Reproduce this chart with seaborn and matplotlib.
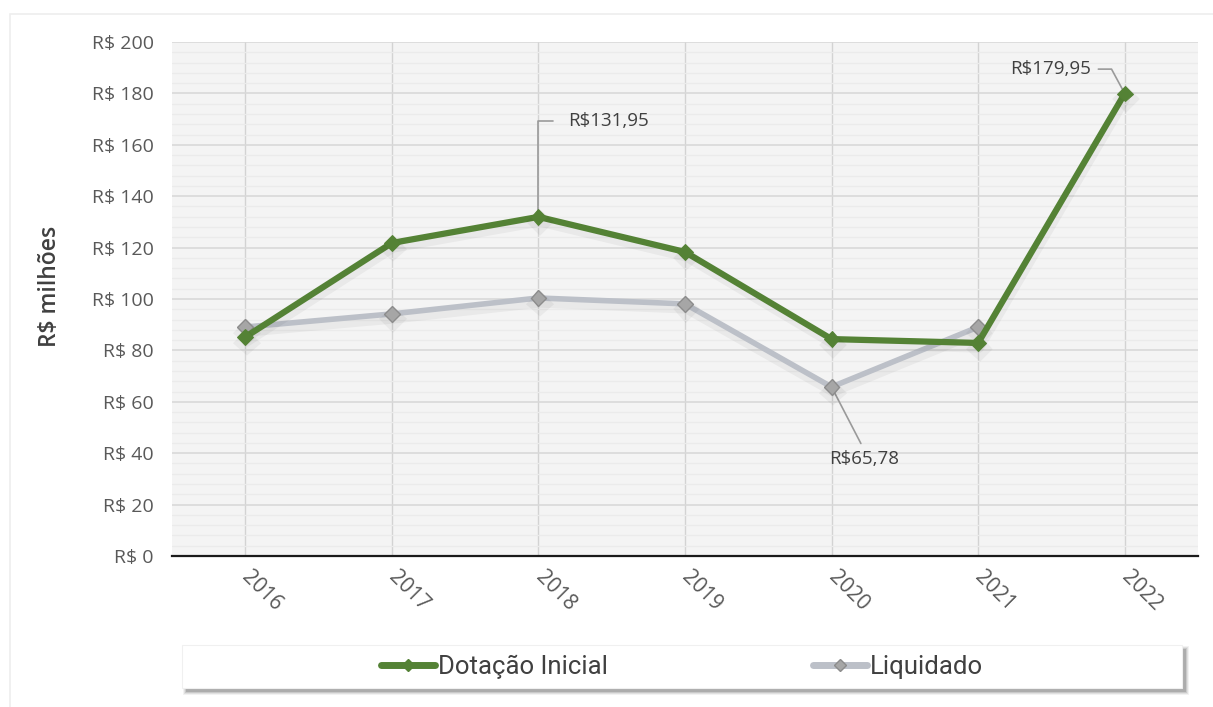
import numpy as np
import pandas as pd
import matplotlib
matplotlib.use("Agg")
import matplotlib.pyplot as plt
import matplotlib.patheffects as pe
from matplotlib.lines import Line2D
from matplotlib.patches import Rectangle
from matplotlib.ticker import FuncFormatter, MultipleLocator
import seaborn as sns

# Budget series (R$ millions)
years = ["2016", "2017", "2018", "2019", "2020", "2021", "2022"]
dotacao_inicial = [85.2, 121.8, 131.95, 118.3, 84.4, 82.9, 179.95]
liquidado = [89.1, 94.2, 100.4, 98.1, 65.78, 89.1, np.nan]
series_names = ["Dotação Inicial", "Liquidado"]

GREEN = "#548235"
GRAY_LINE = "#bcc0c8"
GRAY_MARK = "#a6a6a6"
TEXT = "#595959"

sns.set_style("white")
plt.rcParams["font.family"] = ["Open Sans", "DejaVu Sans"]

df = pd.DataFrame({
    "ano": years * 2,
    "pos": list(range(len(years))) * 2,
    "valor": dotacao_inicial + liquidado,
    "serie": [series_names[0]] * len(years) + [series_names[1]] * len(years),
})

W, H = 1213, 707
fig = plt.figure(figsize=(W / 100, H / 100), dpi=100)

# faint outer frame of the chart area
fig.add_artist(Rectangle((10 / W, -0.2), 1.2, 1.2 - 14 / H, transform=fig.transFigure,
                         fill=False, edgecolor="#eeeeee", linewidth=1.2))

ax = fig.add_axes([172 / W, 1 - 556 / H, (1198 - 172) / W, (556 - 42) / H])
ax.set_facecolor("#f4f4f4")

shadow = [pe.SimpleLineShadow(offset=(1, -4), shadow_color="k", alpha=0.045, rho=1,
                              linewidth=6),
          pe.Normal()]

liq = df[df["serie"] == series_names[1]].dropna()
sns.lineplot(data=liq, x="pos", y="valor", ax=ax, color=GRAY_LINE, linewidth=4,
             marker="D", markersize=8, markerfacecolor=GRAY_MARK,
             markeredgecolor="#8c8c8c", markeredgewidth=1, zorder=3,
             path_effects=shadow, legend=False)

dot = df[df["serie"] == series_names[0]]
sns.lineplot(data=dot, x="pos", y="valor", ax=ax, color=GREEN, linewidth=4.5,
             marker="D", markersize=8, markerfacecolor=GREEN,
             markeredgecolor=GREEN, zorder=4, path_effects=shadow, legend=False)

ax.set_xlim(-0.5, len(years) - 0.5)
ax.set_ylim(0, 200)
ax.yaxis.set_major_locator(MultipleLocator(20))
ax.yaxis.set_minor_locator(MultipleLocator(4))
ax.yaxis.set_major_formatter(FuncFormatter(lambda v, _: f"R$ {int(v)}"))
ax.set_xticks(range(len(years)))
ax.set_xticklabels(years)

ax.grid(which="major", axis="y", color="#d9d9d9", linewidth=1.2, zorder=0)
ax.grid(which="minor", axis="y", color="#ebebeb", linewidth=0.9, zorder=0)
ax.grid(which="major", axis="x", color="#d3d3d3", linewidth=1.0, zorder=0)
ax.set_axisbelow(True)

for s in ["top", "right", "left"]:
    ax.spines[s].set_visible(False)
ax.spines["bottom"].set_color("#1a1a1a")
ax.spines["bottom"].set_linewidth(1.6)

ax.tick_params(axis="y", which="major", length=7, width=1, color="#bfbfbf",
               labelsize=14, labelcolor=TEXT, pad=6)
ax.tick_params(axis="y", which="minor", length=0)
ax.tick_params(axis="x", length=0, labelsize=15, labelcolor=TEXT, pad=13)
for lbl in ax.get_xticklabels():
    lbl.set_rotation(-45)
    lbl.set_ha("left")
    lbl.set_va("center")
    lbl.set_rotation_mode("anchor")

ax.set_xlabel("")
ax.set_ylabel("")
fig.text(50 / W, 1 - 286 / H, "R$ milhões", rotation=90, ha="center", va="center",
         fontsize=16.5, color="#404040", fontweight="semibold")


def brl(v):
    return "R$" + f"{v:.2f}".replace(".", ",")


lead = dict(color="#9a9a9a", linewidth=1.2, zorder=2)
note = dict(fontsize=13.5, color="#404040")

# 2018 peak label
i18 = years.index("2018")
v18 = dotacao_inicial[i18]
ax.plot([i18, i18, i18 + 0.1], [v18, v18 + 37.3, v18 + 37.3], **lead)
ax.text(i18 + 0.2, v18 + 37.3, brl(v18), ha="left", va="center", **note)

# 2022 label
i22 = years.index("2022")
v22 = dotacao_inicial[i22]
ax.plot([i22, i22 - 0.09, i22 - 0.18], [v22, v22 + 9.5, v22 + 9.5], **lead)
ax.text(i22 - 0.23, v22 + 9.5, brl(v22), ha="right", va="center", **note)

# 2020 minimum label
i20 = years.index("2020")
v20 = liquidado[i20]
ax.plot([i20, i20 + 0.2], [v20, v20 - 22], **lead)
ax.text(i20 + 0.22, v20 - 28, brl(v20), ha="center", va="center", **note)

# legend box with a soft drop shadow
bx0, by0, bx1, by1 = 182, 645, 1182, 688
for k, a in enumerate([0.05, 0.07, 0.10, 0.14]):
    grow = 3 - k
    fig.add_artist(Rectangle(((bx0 + 4 - grow) / W, 1 - (by1 + 4 + grow) / H),
                             (bx1 - bx0 + 2 * grow) / W, (by1 - by0 + 2 * grow) / H,
                             transform=fig.transFigure, facecolor="k", alpha=a,
                             edgecolor="none", zorder=1))
fig.add_artist(Rectangle((bx0 / W, 1 - by1 / H), (bx1 - bx0) / W, (by1 - by0) / H,
                         transform=fig.transFigure, facecolor="white",
                         edgecolor="#f0f0f0", linewidth=0.8, zorder=2))

handles = [
    Line2D([], [], color=GREEN, linewidth=5, marker="D", markersize=6,
           markerfacecolor=GREEN, markeredgecolor=GREEN),
    Line2D([], [], color=GRAY_LINE, linewidth=5, marker="D", markersize=6,
           markerfacecolor=GRAY_MARK, markeredgecolor="#8c8c8c"),
]
leg = fig.legend(handles, series_names, loc="center", ncol=2,
                 bbox_to_anchor=((bx0 + bx1) / 2 / W, 1 - (by0 + by1) / 2 / H),
                 frameon=False, handlelength=2.1, handletextpad=0.1,
                 columnspacing=8.0,
                 prop={"family": ["Roboto", "DejaVu Sans"], "size": 18.5})
leg.set_zorder(5)
for t in leg.get_texts():
    t.set_color("#404040")

fig.savefig("out.png", dpi=100)
